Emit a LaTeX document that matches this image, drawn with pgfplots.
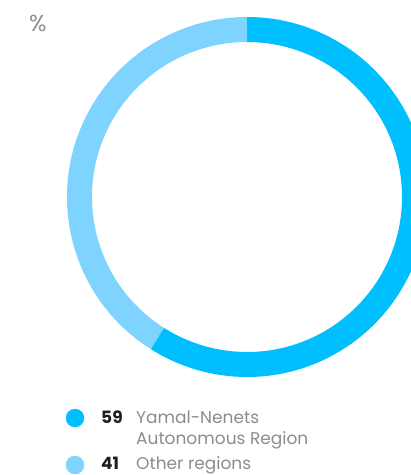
\documentclass[border=0pt]{standalone}
\usepackage{pgfplots}
\usepackage{pgfplotstable}
\pgfplotsset{compat=1.18}
\usepackage{fontspec}
\setmainfont{Poppins}

\definecolor{ynao}{HTML}{00BFFF}
\definecolor{other}{HTML}{7FD3FF}
\definecolor{txtgray}{HTML}{8C8C8C}
\definecolor{numdark}{HTML}{1E1E1E}

% share of gas output, %
\pgfplotstableread{
label value
Yamal 59
Other 41
}\shares

\begin{document}
\begin{tikzpicture}[font=\fontsize{17}{20}\selectfont]
\pgfplotstablegetelem{0}{value}\of\shares \let\va\pgfplotsretval
\pgfplotstablegetelem{1}{value}\of\shares \let\vb\pgfplotsretval
\pgfmathsetmacro{\da}{-3.6*\va}
\pgfmathsetmacro{\db}{-3.6*\vb}
\pgfmathsetmacro{\mid}{90+\da}
\useasboundingbox (0,0) rectangle (411pt,475pt);
\clip (0,0) rectangle (411pt,475pt);
\begin{axis}[
  scale only axis, width=411pt, height=475pt,
  xmin=0, xmax=411, ymin=0, ymax=475,
  hide axis, clip=false,
]
\coordinate (c) at (axis cs:247,278);
\draw[ynao, line width=25pt] (c) ++(90:167.5pt) arc[start angle=90, delta angle=\da, radius=167.5pt];
\draw[other, line width=25pt] (c) ++(\mid:167.5pt) arc[start angle=\mid, delta angle=\db, radius=167.5pt];

\addplot[only marks, mark=*, mark size=9pt, ynao, mark options={draw=none}] coordinates {(75,57)};
\addplot[only marks, mark=*, mark size=9pt, other, mark options={draw=none}] coordinates {(75,10)};

\node[anchor=base west, inner sep=0, text=txtgray, font=\fontsize{23}{26}\selectfont] at (axis cs:29,443) {\%};
\node[anchor=base west, inner sep=0, text=numdark, font=\fontsize{17}{20}\selectfont\bfseries] at (axis cs:101,52) {59};
\node[anchor=base west, inner sep=0, text=txtgray] at (axis cs:136,52) {Yamal-Nenets};
\node[anchor=base west, inner sep=0, text=txtgray] at (axis cs:136,31) {Autonomous Region};
\node[anchor=base west, inner sep=0, text=numdark, font=\fontsize{17}{20}\selectfont\bfseries] at (axis cs:101,6) {41};
\node[anchor=base west, inner sep=0, text=txtgray] at (axis cs:136,6) {Other regions};
\end{axis}
\end{tikzpicture}
\end{document}
